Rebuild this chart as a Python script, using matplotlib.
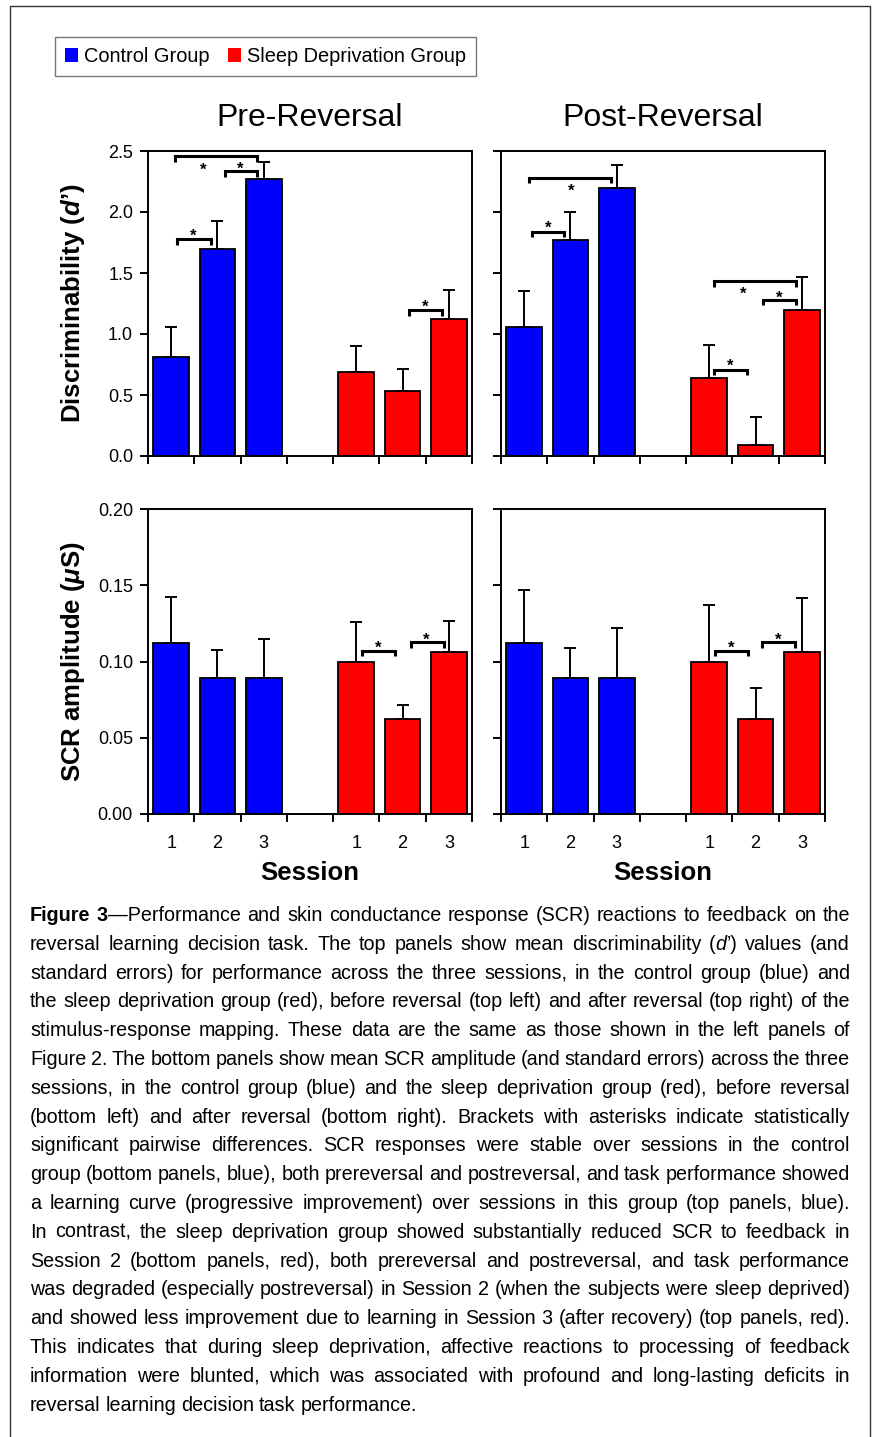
import re
import numpy as np
import matplotlib
matplotlib.use('Agg')
import matplotlib.pyplot as plt
from matplotlib import font_manager
from matplotlib.patches import Patch, Rectangle
from matplotlib.ticker import FormatStrFormatter
from matplotlib.transforms import IdentityTransform

plt.rcParams['font.family'] = ['Liberation Sans', 'DejaVu Sans']
plt.rcParams['mathtext.fontset'] = 'custom'
plt.rcParams['mathtext.rm'] = 'Liberation Sans:bold'
plt.rcParams['mathtext.bf'] = 'Liberation Sans:bold'
plt.rcParams['mathtext.it'] = 'Liberation Sans:italic:bold'

# ---- data ----
sessions = ['1', '2', '3']

pre_ctrl = [0.81, 1.70, 2.27]
pre_ctrl_se = [0.25, 0.23, 0.14]
pre_sd = [0.69, 0.53, 1.12]
pre_sd_se = [0.21, 0.18, 0.24]

post_ctrl = [1.06, 1.77, 2.20]
post_ctrl_se = [0.29, 0.23, 0.185]
post_sd = [0.64, 0.09, 1.20]
post_sd_se = [0.27, 0.23, 0.27]

scr_pre_ctrl = [0.112, 0.089, 0.089]
scr_pre_ctrl_se = [0.0306, 0.0185, 0.0258]
scr_pre_sd = [0.100, 0.062, 0.106]
scr_pre_sd_se = [0.026, 0.0094, 0.0208]

scr_post_ctrl = [0.112, 0.089, 0.089]
scr_post_ctrl_se = [0.035, 0.020, 0.033]
scr_post_sd = [0.100, 0.062, 0.106]
scr_post_sd_se = [0.037, 0.0205, 0.0354]

# significance brackets: (x left, x right, bracket height, star x, star y)
br_pre = [(0.58, 2.35, 2.46, 1.19, 2.38), (1.66, 2.35, 2.336, 2.0, 2.39),
          (0.63, 1.36, 1.78, 0.98, 1.84), (5.64, 6.35, 1.195, 5.98, 1.255)]
br_post = [(0.61, 2.38, 2.28, 1.51, 2.21), (0.67, 1.37, 1.84, 1.02, 1.90),
           (4.61, 6.37, 1.434, 5.23, 1.366), (5.67, 6.37, 1.279, 6.02, 1.333),
           (4.60, 5.31, 0.705, 4.95, 0.77)]
br_scr_pre = [(4.63, 5.34, 0.1071, 4.98, 0.1115), (5.68, 6.39, 0.1126, 6.02, 0.117)]
br_scr_post = [(4.63, 5.34, 0.1071, 4.97, 0.1115), (5.64, 6.35, 0.1126, 5.99, 0.117)]

caption = [
    "**Figure 3**—Performance and skin conductance response (SCR) reactions to feedback on the",
    "reversal learning decision task. The top panels show mean discriminability (_d_’) values (and",
    "standard errors) for performance across the three sessions, in the control group (blue) and",
    "the sleep deprivation group (red), before reversal (top left) and after reversal (top right) of the",
    "stimulus-response mapping. These data are the same as those shown in the left panels of",
    "Figure 2. The bottom panels show mean SCR amplitude (and standard errors) across the three",
    "sessions, in the control group (blue) and the sleep deprivation group (red), before reversal",
    "(bottom left) and after reversal (bottom right). Brackets with asterisks indicate statistically",
    "significant pairwise differences. SCR responses were stable over sessions in the control",
    "group (bottom panels, blue), both prereversal and postreversal, and task performance showed",
    "a learning curve (progressive improvement) over sessions in this group (top panels, blue).",
    "In contrast, the sleep deprivation group showed substantially reduced SCR to feedback in",
    "Session 2 (bottom panels, red), both prereversal and postreversal, and task performance",
    "was degraded (especially postreversal) in Session 2 (when the subjects were sleep deprived)",
    "and showed less improvement due to learning in Session 3 (after recovery) (top panels, red).",
    "This indicates that during sleep deprivation, affective reactions to processing of feedback",
    "information were blunted, which was associated with profound and long-lasting deficits in",
    "reversal learning decision task performance.",
]

BLUE = '#0000ff'
RED = '#ff0000'
ctrl_x = [0.5, 1.5, 2.5]
sd_x = [4.5, 5.5, 6.5]

W, H = 875, 1437
fig = plt.figure(figsize=(W / 100, H / 100), dpi=100)


def px_axes(x0, y0, x1, y1):
    return fig.add_axes([x0 / W, 1 - y1 / H, (x1 - x0) / W, (y1 - y0) / H])


def draw_panel(ax, ctrl, ctrl_se, sd, sd_se, brackets, ylim, step, fmt, leg, labels):
    ax.bar(ctrl_x, ctrl, width=0.77, color=BLUE, edgecolor='black', linewidth=1.3, zorder=2)
    ax.bar(sd_x, sd, width=0.77, color=RED, edgecolor='black', linewidth=1.3, zorder=2)
    ax.errorbar(ctrl_x, ctrl, yerr=[np.zeros(3), ctrl_se], fmt='none', ecolor='black',
                elinewidth=1.4, capsize=4, capthick=1.4, zorder=1)
    ax.errorbar(sd_x, sd, yerr=[np.zeros(3), sd_se], fmt='none', ecolor='black',
                elinewidth=1.4, capsize=4, capthick=1.4, zorder=1)
    for x1, x2, y, sx, sy in brackets:
        ax.plot([x1, x1, x2, x2], [y - leg, y, y, y - leg], color='black', lw=2.2,
                solid_joinstyle='miter', solid_capstyle='butt', zorder=3)
        ax.annotate('*', (sx, sy), xytext=(0, -6.5), textcoords='offset points',
                    ha='center', va='baseline', fontsize=12, fontweight='bold')
    ax.set_xlim(0, 7)
    ax.set_ylim(*ylim)
    ax.set_yticks(np.arange(ylim[0], ylim[1] + step / 2, step))
    ax.yaxis.set_major_formatter(FormatStrFormatter(fmt))
    ax.set_xticks(range(8))
    ax.set_xticklabels([])
    ax.set_xticks(ctrl_x + sd_x, minor=True)
    ax.set_xticklabels(sessions * 2 if labels else [''] * 6, minor=True)
    ax.tick_params(which='major', direction='out', length=5.5, width=1.4, labelsize=13, pad=5.3)
    ax.tick_params(axis='x', which='minor', length=0, pad=15, labelsize=13)
    for s in ax.spines.values():
        s.set_linewidth(1.4)


ax1 = px_axes(148, 151, 472, 456)
ax2 = px_axes(501, 151, 825, 456)
ax3 = px_axes(148, 509, 472, 814)
ax4 = px_axes(501, 509, 825, 814)

draw_panel(ax1, pre_ctrl, pre_ctrl_se, pre_sd, pre_sd_se, br_pre, (0, 2.5), 0.5, '%.1f', 0.05, False)
draw_panel(ax2, post_ctrl, post_ctrl_se, post_sd, post_sd_se, br_post, (0, 2.5), 0.5, '%.1f', 0.045, False)
draw_panel(ax3, scr_pre_ctrl, scr_pre_ctrl_se, scr_pre_sd, scr_pre_sd_se, br_scr_pre, (0, 0.2), 0.05, '%.2f', 0.0035, True)
draw_panel(ax4, scr_post_ctrl, scr_post_ctrl_se, scr_post_sd, scr_post_sd_se, br_scr_post, (0, 0.2), 0.05, '%.2f', 0.0035, True)

for ax in (ax2, ax4):
    ax.tick_params(labelleft=False)

ax1.set_title('Pre-Reversal', fontsize=23, pad=18)
ax2.set_title('Post-Reversal', fontsize=23, pad=18)

ax1.set_ylabel('Discriminability ($\\mathit{d}$’)', fontsize=18.5, fontweight='bold')
ax3.set_ylabel('SCR amplitude ($\\mathit{\\mu}$S)', fontsize=18.5, fontweight='bold')
for ax in (ax1, ax3):
    ax.yaxis.label.set_va('center')
    ax.yaxis.set_label_coords((73 - 148) / 324, 0.5)
for ax in (ax3, ax4):
    ax.set_xlabel('Session', fontsize=18.5, fontweight='bold')
    ax.xaxis.label.set_va('center')
    ax.xaxis.set_label_coords(0.5, -(873 - 814) / 305)

# legend
handles = [Patch(facecolor=BLUE, edgecolor='none', label='Control Group'),
           Patch(facecolor=RED, edgecolor='none', label='Sleep Deprivation Group')]
leg = fig.legend(handles=handles, loc='upper left', bbox_to_anchor=(55 / W, 1 - 37 / H),
                 ncol=2, fontsize=14.4, fancybox=False, edgecolor='#777777', framealpha=1,
                 handlelength=0.67, handleheight=0.67, handletextpad=0.3,
                 columnspacing=0.9, borderpad=0.5, borderaxespad=0)
leg.get_frame().set_linewidth(1.0)

# outer frame
fig.add_artist(Rectangle((10 / W, -0.01), 860 / W, 1.01 - 6 / H, transform=fig.transFigure,
                         fill=False, edgecolor='#333333', linewidth=1.0))

# caption, justified line by line
try:
    font_manager.findfont(font_manager.FontProperties(family='Liberation Sans Narrow'),
                          fallback_to_default=False)
    cap_family = 'Liberation Sans Narrow'
except ValueError:
    cap_family = 'Liberation Sans'

renderer = fig.canvas.get_renderer()


def style_kw(st):
    if st == 'bold':
        return dict(fontweight='bold')
    if st == 'italic':
        return dict(fontstyle='italic')
    return {}


def text_width(s, size, st='normal'):
    t = fig.text(0, 0, s, fontsize=size, family=[cap_family, 'DejaVu Sans'],
                 transform=IdentityTransform(), **style_kw(st))
    w = t.get_window_extent(renderer).width
    return t, w


def parse(line):
    runs, st = [], 'normal'
    for part in re.split(r'(\*\*|_)', line):
        if part == '**':
            st = 'normal' if st == 'bold' else 'bold'
        elif part == '_':
            st = 'normal' if st == 'italic' else 'italic'
        elif part:
            runs.append((part, st))
    words = [[]]
    for txt, s in runs:
        for j, p in enumerate(txt.split(' ')):
            if j > 0:
                words.append([])
            if p:
                words[-1].append((p, s))
    return [w for w in words if w]


tmp, w_last = text_width(caption[-1], 15)
tmp.remove()
cap_size = 15 * 388 / w_last

x_left, x_right = 30, 850
for i, line in enumerate(caption):
    y = H - (921 + i * 28.8)
    words = parse(line)
    placed = []
    for word in words:
        segs = [text_width(s, cap_size, st) for s, st in word]
        placed.append(segs)
    widths = [sum(w for _, w in segs) for segs in placed]
    if i < len(caption) - 1:
        gap = (x_right - x_left - sum(widths)) / (len(words) - 1)
    else:
        gap = 0.25 * cap_size * 100 / 72
    x = x_left
    for segs, ww in zip(placed, widths):
        xs = x
        for t, w in segs:
            t.set_position((xs, y))
            xs += w
        x += ww + gap

fig.savefig('out.png', dpi=100)
